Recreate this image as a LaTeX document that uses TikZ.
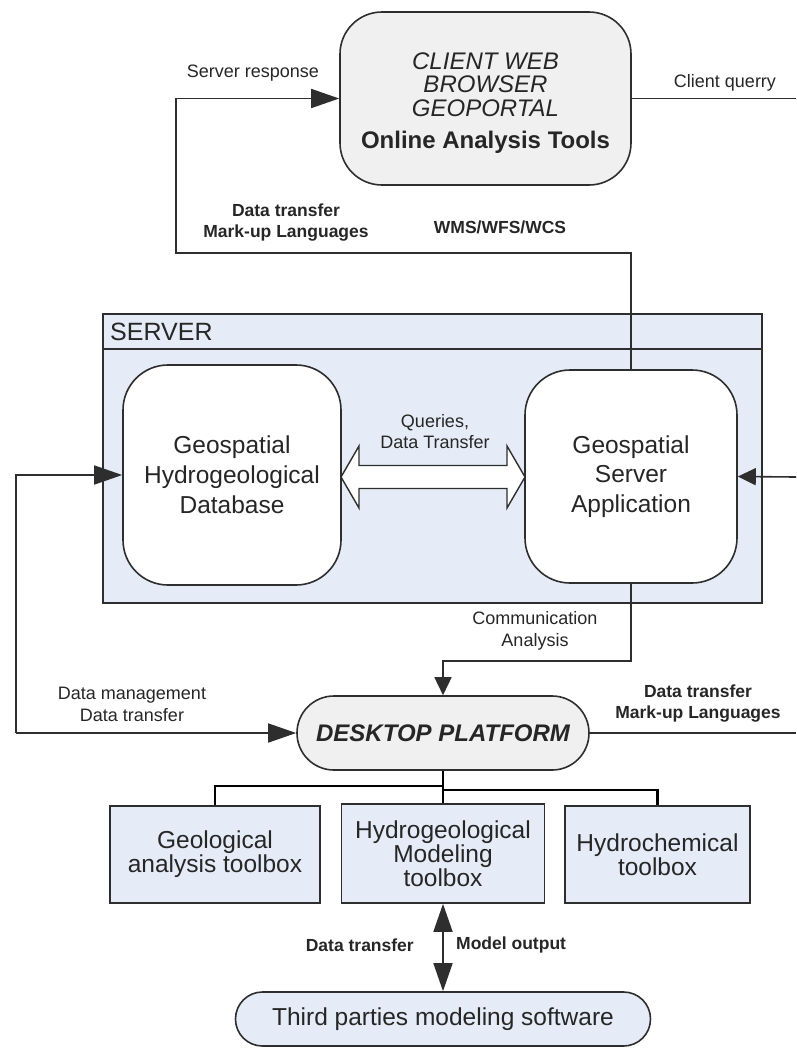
\documentclass[tikz,border=0pt]{standalone}
\usepackage{fontspec}
\setmainfont{Liberation Sans}
\usetikzlibrary{arrows.meta,calc}
\definecolor{bluefill}{HTML}{E5ECF7}
\definecolor{greyfill}{HTML}{F0F0F0}
\definecolor{linec}{HTML}{2E2E2E}
\definecolor{textc}{HTML}{262626}
\begin{document}
\begin{tikzpicture}[x=1pt,y=-1pt,
  box/.style={draw=linec, line width=1.6pt, align=center, inner sep=0pt, text=textc,
              font=\fontsize{24.5}{24}\selectfont},
  conn/.style={draw=linec, line width=1.6pt},
  bighead/.style={-{Triangle[length=28pt,width=19pt]}},
  smallhead/.style={-{Triangle[length=18pt,width=17pt]}},
  lab/.style={font=\fontsize{18}{22}\selectfont, text=textc, align=center, inner sep=0pt},
  blab/.style={font=\bfseries\fontsize{17.5}{21}\selectfont, text=textc, align=center, inner sep=0pt},
  tree/.style={draw=black, line width=2.6pt}]
\useasboundingbox (0,0) rectangle (796,1053);

% server container
\node[box, fill=bluefill, minimum width=659pt, minimum height=289pt] (server) at (432.5,458.5) {};
\draw[conn] ($(server.north west)+(0,36)$) -- ($(server.north east)+(0,36)$);
\node[anchor=west, inner sep=0pt, text=textc, font=\fontsize{25}{25}\selectfont] (serverlab) at (110,332) {SERVER};

% boxes
\node[box, fill=white, rounded corners=45pt, minimum width=218pt, minimum height=220pt,
      font=\fontsize{24.5}{30}\selectfont] (db) at (232,475) {Geospatial\\Hydrogeological\\Database};
\node[box, fill=white, rounded corners=45pt, minimum width=212pt, minimum height=213pt,
      font=\fontsize{24.5}{29.5}\selectfont] (app) at (631,476.5) {Geospatial\\Server\\Application};
\node[box, fill=greyfill, rounded corners=42pt, minimum width=291pt, minimum height=173pt,
      font=\fontsize{24}{23.5}\selectfont] (client) at (485.5,98.5)
      {\rule{0pt}{26pt}\textit{CLIENT WEB}\\\textit{BROWSER}\\\textit{GEOPORTAL}\\[9pt]\textbf{Online Analysis Tools}};
\node[box, fill=greyfill, rounded corners=36.9pt, minimum width=292pt, minimum height=74pt,
      font=\bfseries\itshape\fontsize{24}{24}\selectfont] (desk) at (443,733) {DESKTOP PLATFORM};
\node[box, fill=bluefill, minimum width=210pt, minimum height=97pt] (geo) at (215,854.5)
      {Geological\\analysis toolbox};
\node[box, fill=bluefill, minimum width=203pt, minimum height=99pt] (hydro) at (443,853.5)
      {Hydrogeological\\Modeling\\toolbox};
\node[box, fill=bluefill, minimum width=185pt, minimum height=97pt] (chem) at (657.5,854.5)
      {Hydrochemical\\toolbox};
\node[box, fill=bluefill, rounded corners=26.9pt, minimum width=415pt, minimum height=54pt] (third) at (443,1019)
      {Third parties modeling software};

% coordinates for free ends and corners
\coordinate (tl) at (176,253);
\coordinate (cq) at (796,98.5);
\coordinate (rin) at (796,477);
\coordinate (lc) at (16,733);
\coordinate (cm) at (443,661);
\coordinate (dr) at (796,733);
\coordinate (t1) at (443,786);
\coordinate (t2) at (443,790);

% connectors
\draw[conn, bighead] (app.north) |- (tl) |- (client.west);
\draw[conn] (client.east) -- (cq);
\draw[conn, smallhead] (rin) -- (app.east);
\draw[conn, bighead] (lc) |- (db.west);
\draw[conn, bighead] (lc) -- (desk.west);
\draw[conn, smallhead] (app.south) |- (cm) -- (desk.north);
\draw[conn] (desk.east) -- (dr);

% hollow double arrow
\draw[draw=linec, line width=1.4pt, fill=white]
  (341,477) -- (359,446) -- (359,465.5) -- (507,465.5) -- (507,446) -- (525,477)
  -- (507,508) -- (507,488.5) -- (359,488.5) -- (359,508) -- cycle;

% tree
\draw[tree] (desk.south) -- (t1) -| (geo.north);
\draw[tree] (t1) -- (t2) -| (chem.north);
\draw[tree] (t2) -- (hydro.north);

% vertical double arrow
\draw[conn, {Triangle[length=28pt,width=19pt]}-{Triangle[length=28pt,width=19pt]}] (hydro.south) -- (third.north);

% labels
\node[lab] (srvresp) at (253,73) {Server response};
\node[lab] (cquery) at (725,83) {Client querry};
\node[blab] (dtml1) at (286,222.5) {Data transfer\\Mark-up Languages};
\node[blab] (wms) at (500,227) {WMS/WFS/WCS};
\node[lab, font=\fontsize{18}{21}\selectfont] (q) at (435,432) {Queries,\\Data Transfer};
\node[lab] (ca) at (535,631) {Communication\\Analysis};
\node[lab] (dm) at (132,704) {Data management\\Data transfer};
\node[blab] (dtml2) at (698,704) {Data transfer\\Mark-up Languages};
\node[blab, anchor=east] (dtb) at (414,945) {Data transfer};
\node[blab, anchor=west] (mo) at (456,945) {Model output};
\end{tikzpicture}
\end{document}
